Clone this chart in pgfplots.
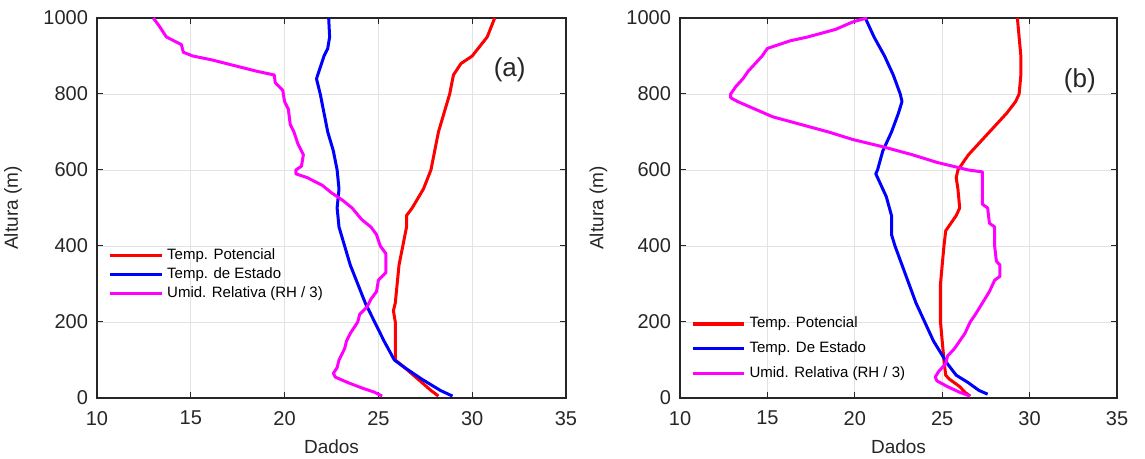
\documentclass[border=0pt]{standalone}
\usepackage{fontspec}
\setmainfont{Liberation Sans}
\usepackage{pgfplots}
\pgfplotsset{compat=1.18}
\definecolor{axgray}{RGB}{38,38,38}
\definecolor{rhmag}{RGB}{255,0,255}
\definecolor{tred}{RGB}{255,0,0}
\definecolor{tblue}{RGB}{0,0,255}

\pgfplotsset{
  perfil/.style={
    scale only axis,
    anchor=south west,
    height=190pt,
    xmin=10, xmax=35, ymin=0, ymax=1000,
    xtick={10,15,...,35},
    ytick={0,200,...,1000},
    tick align=inside,
    major tick length=3pt,
    grid=major,
    grid style={line width=0.4pt, gray!22},
    axis line style={axgray, line width=0.6pt},
    every tick/.style={axgray, line width=0.5pt},
    tick label style={font=\fontsize{10}{11}\selectfont, text=axgray},
    xticklabel style={yshift=-3pt},
    yticklabel style={xshift=-1pt},
    /pgf/number format/assume math mode=true,
    /pgf/number format/1000 sep={},
    label style={font=\fontsize{9.5}{10}\selectfont, text=axgray},
    xlabel={Dados},
    ylabel={Altura (m)},
    xlabel style={at={(axis description cs:0.5,-0.09)}, anchor=north},
    legend cell align=left,
    legend style={draw=none, fill=none, font=\fontsize{7.5}{8.5}\selectfont,
      inner sep=1pt},
    legend image post style={line width=1.6pt},
  },
  every axis plot/.append style={line width=1.5pt, line join=round},
}

\begin{document}
\begin{tikzpicture}
\useasboundingbox (0,-30.5pt) rectangle (572.5pt,199pt);

% (a)
\begin{axis}[perfil, at={(48.5pt,0pt)}, width=234.5pt,
  ylabel style={at={(axis description cs:-0.145,0.5)}, anchor=south},
  legend style={at={(0.02,0.41)}, anchor=north west, row sep=-1.5pt},
  legend image code/.code={\draw[#1] (0cm,0cm) -- (0.9cm,0cm);}]
\addplot[tred] coordinates {
(31.2,1000) (30.8,950) (30.0,900) (29.4,880) (29.0,850) (28.8,800)
(28.5,750) (28.2,700) (28.0,650) (27.8,600) (27.4,550) (26.8,500)
(26.5,480) (26.5,450) (26.3,400) (26.1,350) (26.0,300) (25.9,250)
(25.8,230) (25.9,200) (25.9,150) (25.9,100) (26.4,80) (27.1,50)
(27.8,20) (28.2,5)};
\addlegendentry{Temp. Potencial}
\addplot[tblue] coordinates {
(22.35,1000) (22.4,950) (22.3,920) (22.1,900) (21.9,870) (21.7,840)
(21.9,800) (22.1,750) (22.3,700) (22.6,650) (22.8,600) (22.9,550)
(22.8,500) (22.9,450) (23.2,400) (23.5,350) (23.9,300) (24.3,250)
(24.8,200) (25.3,150) (25.85,100) (26.4,80) (27.3,50) (28.3,20)
(28.95,5)};
\addlegendentry{Temp. de Estado}
\addplot[rhmag] coordinates {
(13.0,1000) (13.3,980) (13.7,950) (14.5,930) (14.6,910) (15.1,900)
(16.1,890) (17.3,875) (18.5,860) (19.45,850) (19.5,830) (19.9,810)
(20.0,780) (20.2,760) (20.3,720) (20.5,700) (20.7,670) (21.0,640)
(20.9,610) (20.6,600) (20.6,590) (21.2,580) (22.0,560) (22.5,540)
(23.1,520) (23.6,500) (24.1,470) (24.6,450) (24.9,430) (25.1,400)
(25.4,380) (25.4,330) (25.0,310) (24.9,280) (24.6,260) (24.4,240)
(24.0,220) (23.9,200) (23.5,170) (23.3,150) (23.2,130) (22.9,100)
(22.8,80) (22.6,65) (22.7,55) (23.4,40) (24.2,25) (24.8,15) (25.2,5)};
\addlegendentry{Umid. Relativa (RH / 3)}
\node[font=\fontsize{13}{14}\selectfont, text=axgray] at (axis description cs:0.88,0.863) {(a)};
\end{axis}

% (b)
\begin{axis}[perfil, at={(340pt,0pt)}, width=218.5pt,
  ylabel style={at={(axis description cs:-0.15,0.5)}, anchor=south},
  legend style={at={(0.02,0.23)}, anchor=north west, row sep=1.5pt},
  legend image code/.code={\draw[#1] (0cm,0cm) -- (0.9cm,0cm);}]
\addplot[tred] coordinates {
(29.3,1000) (29.4,950) (29.5,900) (29.5,850) (29.4,800) (29.2,780)
(28.7,750) (28.1,720) (27.7,700) (27.1,670) (26.5,640) (26.2,620)
(25.9,600) (25.8,580) (25.9,550) (26.0,500) (25.8,480) (25.5,460)
(25.2,440) (25.1,400) (25.0,350) (24.9,300) (24.9,250) (24.9,200)
(25.0,150) (25.1,100) (25.2,60) (25.4,50) (26.0,30) (26.3,15) (26.6,5)};
\addlegendentry{Temp. Potencial}
\addplot[tblue] coordinates {
(20.6,1000) (21.1,950) (21.7,900) (22.2,850) (22.6,800) (22.7,780)
(22.5,750) (22.1,700) (21.6,650) (21.3,600) (21.2,590) (21.4,570)
(21.8,530) (22.1,480) (22.1,430) (22.3,400) (22.7,350) (23.1,300)
(23.5,250) (24.0,200) (24.5,150) (24.9,120) (25.3,90) (25.8,60)
(26.5,40) (27.1,20) (27.6,10)};
\addlegendentry{Temp. De Estado}
\addplot[rhmag] coordinates {
(20.7,1000) (19.9,990) (18.9,970) (17.3,950) (16.3,940) (15.0,920)
(14.7,900) (14.3,880) (13.9,860) (13.6,840) (13.2,820) (12.9,800)
(12.9,790) (13.3,780) (14.3,760) (15.3,740) (16.9,720) (18.5,700)
(19.9,680) (21.7,660) (23.3,640) (24.7,620) (26.5,600) (27.3,595)
(27.3,550) (27.3,510) (27.6,500) (27.7,460) (28.0,450) (28.0,400)
(28.1,360) (28.3,350) (28.3,320) (28.0,310) (27.7,280) (27.3,250)
(26.9,220) (26.6,200) (26.3,170) (26.0,150) (25.7,130) (25.3,110)
(25.2,90) (25.0,80) (24.8,70) (24.6,55) (24.7,45) (25.3,30) (26.0,15)
(26.6,5)};
\addlegendentry{Umid. Relativa (RH / 3)}
\node[font=\fontsize{13}{14}\selectfont, text=axgray] at (axis description cs:0.915,0.834) {(b)};
\end{axis}
\end{tikzpicture}
\end{document}
